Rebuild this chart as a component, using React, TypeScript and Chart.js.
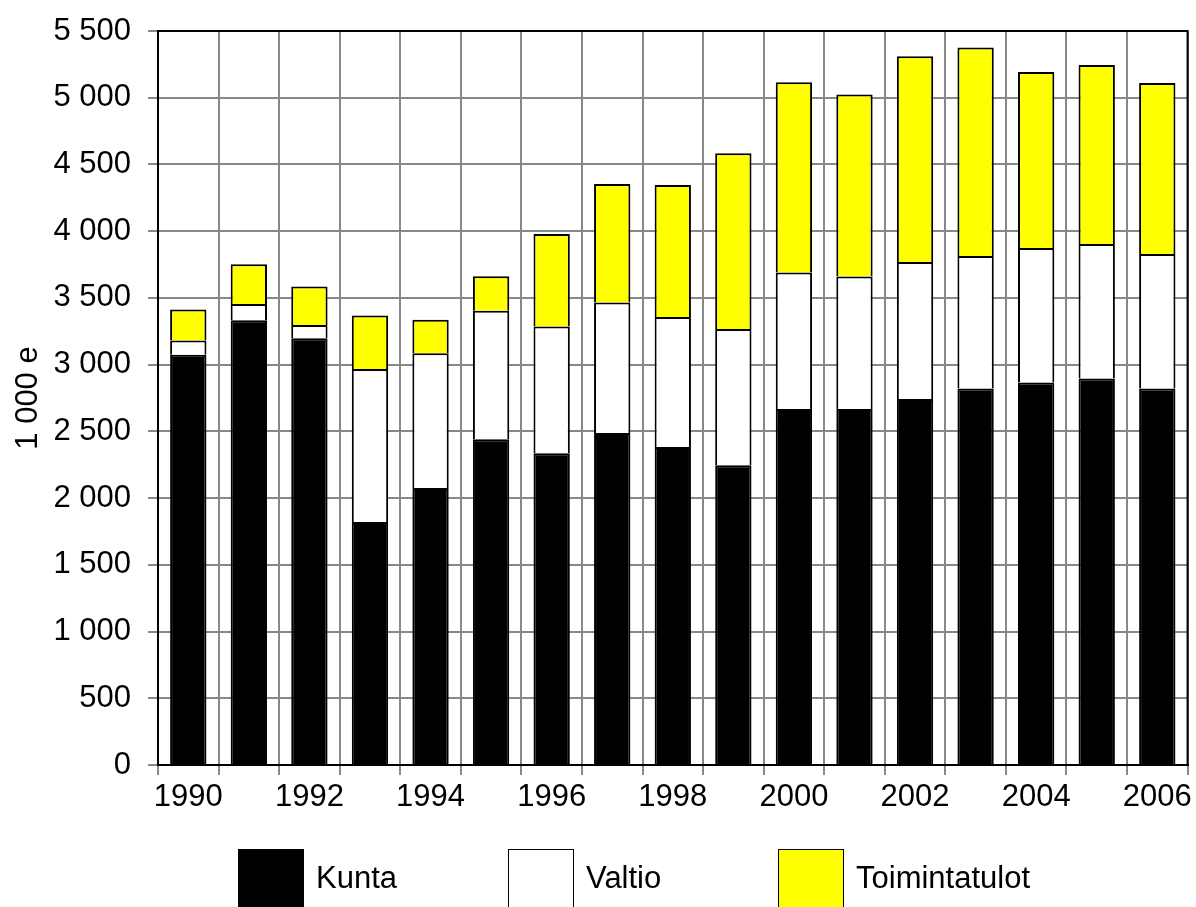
import React, { useEffect, useRef } from 'react';
import { Chart, registerables } from 'chart.js';

Chart.register(...registerables);

const years = ['1990', '1991', '1992', '1993', '1994', '1995', '1996', '1997', '1998', '1999', '2000', '2001', '2002', '2003', '2004', '2005', '2006'];
const kunta = [3075, 3332, 3197, 1821, 2076, 2441, 2336, 2488, 2383, 2246, 2668, 2668, 2743, 2821, 2866, 2896, 2821];
const valtio = [105, 123, 100, 1146, 1009, 963, 949, 977, 974, 1021, 1022, 992, 1026, 993, 1008, 1008, 1008];
const toimintatulot = [233, 297, 288, 401, 252, 258, 694, 889, 989, 1317, 1426, 1364, 1542, 1562, 1319, 1341, 1282];
const seriesNames = ['Kunta', 'Valtio', 'Toimintatulot'];
const yAxisTitle = '1 000 e';

const FONT = '"Liberation Sans", Arial, Helvetica, sans-serif';
const GRID = '#888888';

const formatThousands = (v: number) => String(v).replace(/\B(?=(\d{3})+(?!\d))/g, ' ');

const framePlugin = {
  id: 'frame',
  afterDraw(chart: any) {
    const { ctx, chartArea } = chart;
    const { left, top, right, bottom } = chartArea;
    ctx.save();
    ctx.strokeStyle = '#000';
    ctx.lineWidth = 2;
    ctx.strokeRect(left, top, right - left, bottom - top);
    ctx.restore();
  },
};

const boxLegendPlugin = {
  id: 'boxLegend',
  afterDraw(chart: any) {
    const { ctx } = chart;
    ctx.save();
    chart.data.datasets.forEach((ds: any, i: number) => {
      const x = 238 + i * 270;
      const y = 849;
      ctx.fillStyle = ds.backgroundColor;
      ctx.fillRect(x, y, 66, 62);
      ctx.strokeStyle = '#000';
      ctx.lineWidth = 1;
      ctx.strokeRect(x + 0.5, y + 0.5, 65, 61);
      ctx.fillStyle = '#000';
      ctx.font = `31px ${FONT}`;
      ctx.textBaseline = 'middle';
      ctx.textAlign = 'left';
      ctx.fillText(ds.label, x + 78, 879);
    });
    ctx.restore();
  },
};

export default function App() {
  const ref = useRef<HTMLCanvasElement>(null);

  useEffect(() => {
    const mk = (label: string, data: number[], color: string) => ({
      label,
      data,
      backgroundColor: color,
      borderColor: '#000',
      borderWidth: 2,
      barPercentage: 0.6,
      categoryPercentage: 1.0,
    });
    const chart = new Chart(ref.current as HTMLCanvasElement, {
      type: 'bar',
      data: {
        labels: years,
        datasets: [
          mk(seriesNames[0], kunta, '#000000'),
          mk(seriesNames[1], valtio, '#ffffff'),
          mk(seriesNames[2], toimintatulot, '#ffff00'),
        ],
      },
      options: {
        animation: false,
        responsive: true,
        maintainAspectRatio: false,
        layout: { padding: { top: 31, right: 8, left: 0, bottom: 0 } },
        plugins: {
          legend: { display: false },
          tooltip: { enabled: false },
        },
        scales: {
          x: {
            stacked: true,
            grid: { offset: true, color: GRID, lineWidth: 2, tickLength: 10, tickColor: GRID },
            border: { color: '#000', width: 2 },
            ticks: {
              autoSkip: false,
              maxRotation: 0,
              color: '#000',
              padding: 4,
              font: { family: FONT, size: 31 },
              callback: (_v: any, i: number) => (i % 2 === 0 ? years[i] : ''),
            },
            afterFit: (s: any) => {
              s.height = 142;
            },
          },
          y: {
            stacked: true,
            min: 0,
            max: 5500,
            grid: { color: GRID, lineWidth: 2, tickLength: 10, tickColor: GRID },
            border: { color: '#000', width: 2 },
            ticks: {
              stepSize: 500,
              color: '#000',
              padding: 17,
              font: { family: FONT, size: 31 },
              callback: (v: any) => formatThousands(Number(v)),
            },
            title: {
              display: true,
              text: yAxisTitle,
              color: '#000',
              font: { family: FONT, size: 31 },
              padding: { top: 10, bottom: 0 },
            },
            afterFit: (s: any) => {
              s.width = 158;
              s.paddingTop = 0;
              s.paddingBottom = 0;
            },
          },
        },
      },
      plugins: [framePlugin, boxLegendPlugin],
    } as any);
    return () => chart.destroy();
  }, []);

  return (
    <div style={{ position: 'fixed', left: 0, top: 0, width: 1196, height: 907, background: '#fff' }}>
      <canvas ref={ref} />
    </div>
  );
}
